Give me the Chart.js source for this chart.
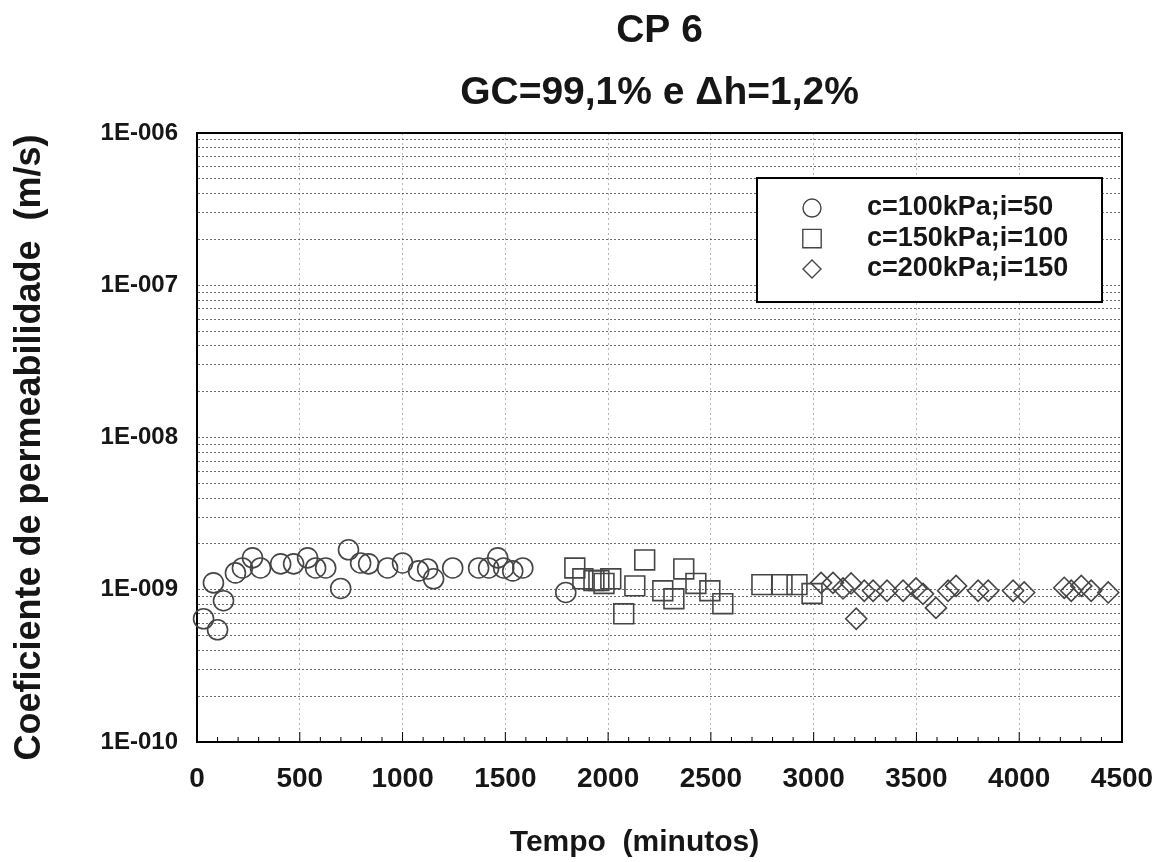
<!DOCTYPE html>
<html>
<head>
<meta charset="utf-8">
<script src="https://cdn.jsdelivr.net/npm/chart.js@4.4.1/dist/chart.umd.min.js"></script>
<style>
  html, body { margin: 0; padding: 0; background: #fff; }
  #wrap { width: 1167px; height: 862px; }
</style>
</head>
<body>
<div id="wrap"><canvas id="kChart" width="1167" height="862"></canvas></div>
<script>
// Coeficiente de permeabilidade (m/s) x tempo (min), CP 6
const decades = [1e-10, 1e-9, 1e-8, 1e-7, 1e-6];
const tickLabels = ['1E-010', '1E-009', '1E-008', '1E-007', '1E-006'];
const seriesLabels = ['c=100kPa;i=50', 'c=150kPa;i=100', 'c=200kPa;i=150'];
const xTitle = 'Tempo  (minutos)';
const yTitle = 'Coeficiente de permeabilidade  (m/s)';

const tempo50 = [32, 80, 100, 129, 187, 221, 270, 309, 407, 470, 538, 577, 626, 699, 737,
  796, 835, 927, 1000, 1078, 1122, 1151, 1244, 1370, 1419, 1463, 1492, 1536, 1585, 1794];
const k50 = [6.45e-10, 1.11e-9, 5.46e-10, 8.47e-10, 1.29e-9, 1.39e-9, 1.62e-9, 1.39e-9, 1.48e-9,
  1.48e-9, 1.62e-9, 1.39e-9, 1.39e-9, 1.02e-9, 1.83e-9, 1.50e-9, 1.48e-9, 1.39e-9, 1.50e-9,
  1.33e-9, 1.37e-9, 1.18e-9, 1.39e-9, 1.39e-9, 1.39e-9, 1.62e-9, 1.39e-9, 1.33e-9, 1.39e-9, 9.6e-10];

const tempo100 = [1838, 1877, 1931, 1955, 1980, 2013, 2076, 2130, 2178, 2266, 2320, 2368, 2427,
  2495, 2558, 2748, 2846, 2919, 2992];
const k100 = [1.39e-9, 1.18e-9, 1.15e-9, 1.15e-9, 1.10e-9, 1.18e-9, 6.95e-10, 1.06e-9, 1.57e-9,
  9.85e-10, 8.73e-10, 1.37e-9, 1.10e-9, 9.85e-10, 8.1e-10, 1.08e-9, 1.08e-9, 1.08e-9, 9.45e-10];

const tempo150 = [3036, 3094, 3143, 3182, 3207, 3246, 3289, 3357, 3435, 3498, 3532, 3595, 3654,
  3693, 3800, 3849, 3970, 4024, 4219, 4253, 4302, 4350, 4433];
const k150 = [1.11e-9, 1.11e-9, 1.02e-9, 1.10e-9, 6.45e-10, 9.85e-10, 9.85e-10, 9.85e-10, 9.85e-10,
  1.02e-9, 9.4e-10, 7.6e-10, 9.85e-10, 1.06e-9, 9.85e-10, 9.85e-10, 9.85e-10, 9.6e-10, 1.03e-9,
  9.85e-10, 1.06e-9, 9.85e-10, 9.6e-10];

const FONT = "'Liberation Sans', Arial, sans-serif";
const INK = '#161616';
const MARK = '#454545';

function toPoints(xs, ys) {
  return xs.map((x, i) => ({ x: x, y: ys[i] }));
}

function series(label, xs, ys, style, radius) {
  return {
    label: label,
    data: toPoints(xs, ys),
    pointStyle: style,
    pointRadius: radius,
    pointHoverRadius: radius,
    pointBorderWidth: 1.6,
    borderColor: MARK,
    backgroundColor: 'rgba(0,0,0,0)',
    showLine: false,
    clip: false
  };
}

// frame round the plot and the small ticks along the time axis
const framePlugin = {
  id: 'frame',
  beforeDatasetsDraw(chart) {
    const { ctx, chartArea: a, scales } = chart;
    ctx.save();
    ctx.strokeStyle = '#000';
    ctx.lineWidth = 1;
    for (let v = 0; v <= 4500; v += 100) {
      const px = scales.x.getPixelForValue(v);
      const len = v % 500 === 0 ? 10 : 5;
      ctx.beginPath();
      ctx.moveTo(px, a.bottom);
      ctx.lineTo(px, a.bottom - len);
      ctx.stroke();
    }
    ctx.lineWidth = 2;
    ctx.strokeRect(a.left, a.top, a.right - a.left, a.bottom - a.top);
    ctx.restore();
  }
};

// axis titles, set a little off the centre of the plot
const axisTitles = {
  id: 'axisTitles',
  afterDraw(chart) {
    const { ctx, chartArea: a } = chart;
    ctx.save();
    ctx.fillStyle = INK;
    ctx.textAlign = 'center';
    ctx.textBaseline = 'middle';
    ctx.font = 'bold 30px ' + FONT;
    ctx.fillText(xTitle, (a.left + a.right) / 2 - 25, a.bottom + 101);
    ctx.translate(a.left - 167, (a.top + a.bottom) / 2 + 10);
    ctx.rotate(-Math.PI / 2);
    ctx.font = 'bold 36px ' + FONT;
    ctx.fillText(yTitle, 0, 0);
    ctx.restore();
  }
};

// boxed legend inside the upper right of the plot
const boxLegend = {
  id: 'boxLegend',
  afterDraw(chart) {
    const { ctx, chartArea: a } = chart;
    const w = 345, h = 124;
    const x0 = a.right - 20 - w, y0 = a.top + 45;
    ctx.save();
    ctx.fillStyle = '#fff';
    ctx.fillRect(x0, y0, w, h);
    ctx.strokeStyle = '#000';
    ctx.lineWidth = 2;
    ctx.strokeRect(x0, y0, w, h);
    const sizes = [9, 13, 9];
    chart.data.datasets.forEach((ds, i) => {
      const cy = y0 + 30 + i * 30.5;
      ctx.strokeStyle = MARK;
      ctx.fillStyle = 'rgba(0,0,0,0)';
      ctx.lineWidth = 1.4;
      Chart.helpers.drawPoint(ctx, { pointStyle: ds.pointStyle, radius: sizes[i], borderWidth: 1.4 }, x0 + 55, cy);
      ctx.fillStyle = INK;
      ctx.font = 'bold 27px ' + FONT;
      ctx.textBaseline = 'middle';
      ctx.textAlign = 'left';
      ctx.fillText(ds.label, x0 + 110, cy);
    });
    ctx.restore();
  }
};

new Chart(document.getElementById('kChart'), {
  type: 'scatter',
  data: {
    datasets: [
      series(seriesLabels[0], tempo50, k50, 'circle', 10),
      series(seriesLabels[1], tempo100, k100, 'rect', 14),
      series(seriesLabels[2], tempo150, k150, 'rectRot', 10.5)
    ]
  },
  options: {
    responsive: false,
    devicePixelRatio: 1,
    animation: false,
    layout: { padding: { left: 0, right: 45, top: 0, bottom: 0 } },
    scales: {
      x: {
        type: 'linear',
        min: 0,
        max: 4500,
        afterFit: (s) => {
          s.height = 120;
          s.paddingLeft = 0;
          s.paddingRight = 0;
        },
        ticks: {
          stepSize: 500,
          autoSkip: false,
          maxRotation: 0,
          padding: 20,
          color: INK,
          font: { family: FONT, size: 28, weight: 'bold' },
          callback: (v) => String(v)
        },
        grid: { color: 'rgba(120,120,120,0.55)', drawTicks: false, lineWidth: 1 },
        border: { color: '#000', width: 2, dash: [2, 3] }
      },
      y: {
        type: 'logarithmic',
        min: 1e-10,
        max: 1e-6,
        afterFit: (s) => { s.width = 197; },
        afterBuildTicks: (s) => {
          const t = [];
          for (let e = -10; e < -6; e++) {
            for (let m = 1; m <= 9; m++) t.push({ value: m * Math.pow(10, e) });
          }
          t.push({ value: 1e-6 });
          s.ticks = t;
        },
        ticks: {
          autoSkip: false,
          padding: 19,
          color: INK,
          font: { family: FONT, size: 24, weight: 'bold' },
          callback: (v) => {
            const i = decades.findIndex(d => Math.abs(v / d - 1) < 1e-6);
            return i >= 0 ? tickLabels[i] : '';
          }
        },
        grid: { color: 'rgba(70,70,70,0.8)', drawTicks: false, lineWidth: 1 },
        border: { color: '#000', width: 2, dash: [2, 2] }
      }
    },
    plugins: {
      legend: { display: false },
      tooltip: { enabled: false },
      title: {
        display: true,
        fullSize: false,
        text: ['CP 6', 'GC=99,1% e \u0394h=1,2%'],
        color: INK,
        font: { family: FONT, size: 39, weight: 'bold', lineHeight: 1.59 },
        padding: { top: 0, bottom: 9 }
      }
    }
  },
  plugins: [framePlugin, axisTitles, boxLegend]
});
</script>
</body>
</html>
